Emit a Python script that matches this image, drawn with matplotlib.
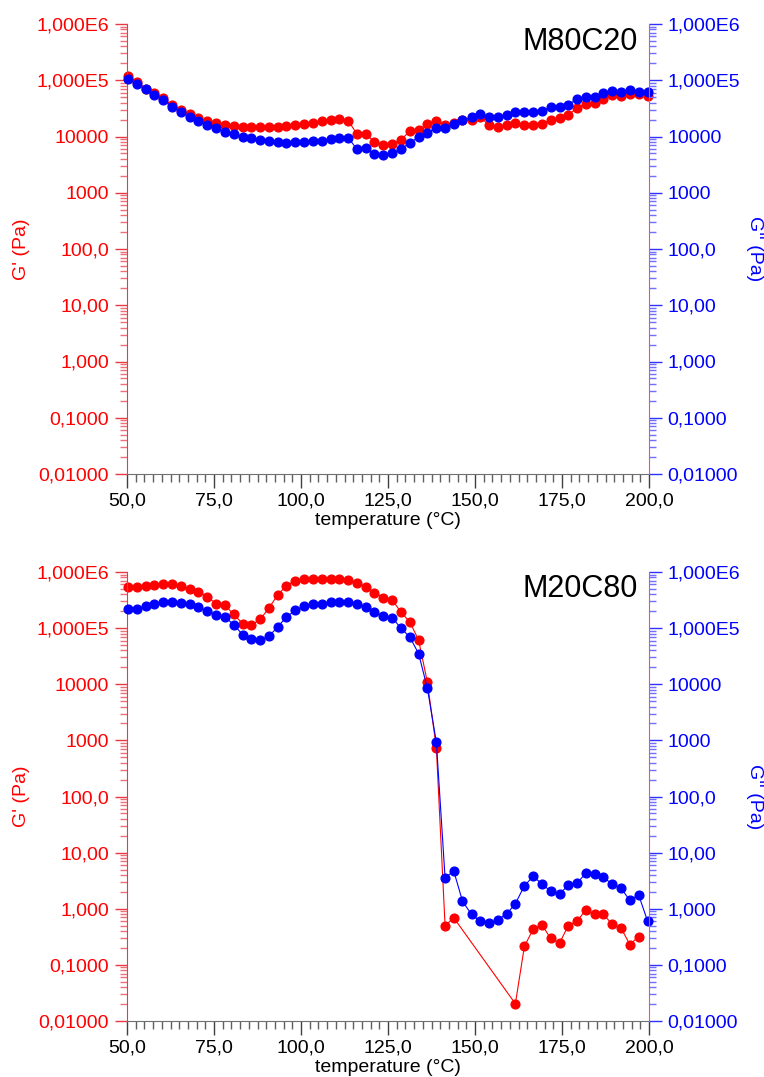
import matplotlib
matplotlib.use('Agg')
import matplotlib.pyplot as plt
from matplotlib.ticker import FixedLocator, LogLocator, NullFormatter
import numpy as np

plt.rcParams['font.family'] = ['Liberation Sans', 'DejaVu Sans']

# temperature (°C), same sweep for both samples
temperature = [50.3, 52.8, 55.4, 57.9, 60.4, 63.0, 65.5, 68.0, 70.5, 73.1,
               75.6, 78.1, 80.7, 83.2, 85.7, 88.3, 90.8, 93.3, 95.8, 98.4,
               100.9, 103.4, 106.0, 108.5, 111.0, 113.6, 116.1, 118.6, 121.1, 123.7,
               126.2, 128.7, 131.3, 133.8, 136.3, 138.9, 141.4, 143.9, 146.4, 149.0,
               151.5, 154.0, 156.6, 159.1, 161.6, 164.2, 166.7, 169.2, 171.7, 174.3,
               176.8, 179.3, 181.9, 184.4, 186.9, 189.5, 192.0, 194.5, 197.0, 199.6]

# M80C20
m80_storage = [1.19e5, 9.4e4, 7.1e4, 5.9e4, 4.8e4, 3.6e4, 2.96e4, 2.5e4, 2.16e4, 1.9e4,
               1.76e4, 1.58e4, 1.54e4, 1.48e4, 1.46e4, 1.45e4, 1.45e4, 1.46e4, 1.54e4, 1.58e4,
               1.67e4, 1.76e4, 1.89e4, 1.96e4, 2.02e4, 1.9e4, 1.1e4, 1.1e4, 8.1e3, 7.1e3,
               7.4e3, 8.7e3, 1.25e4, 1.3e4, 1.67e4, 1.9e4, 1.62e4, 1.76e4, 1.93e4, 1.98e4,
               2.25e4, 1.58e4, 1.49e4, 1.58e4, 1.72e4, 1.58e4, 1.58e4, 1.67e4, 1.96e4, 2.16e4,
               2.38e4, 3.25e4, 3.8e4, 3.9e4, 4.6e4, 5.5e4, 5.3e4, 5.6e4, 5.6e4, 5.25e4]
m80_loss = [1.07e5, 8.5e4, 6.9e4, 5.5e4, 4.5e4, 3.4e4, 2.7e4, 2.25e4, 1.86e4, 1.58e4,
            1.41e4, 1.22e4, 1.09e4, 1.0e4, 9.4e3, 8.8e3, 8.4e3, 8.1e3, 7.8e3, 8.1e3,
            8.1e3, 8.3e3, 8.4e3, 9.0e3, 9.4e3, 9.5e3, 5.9e3, 6.3e3, 4.8e3, 4.7e3,
            5.0e3, 5.9e3, 7.8e3, 9.7e3, 1.17e4, 1.43e4, 1.43e4, 1.65e4, 1.96e4, 2.2e4,
            2.48e4, 2.2e4, 2.2e4, 2.41e4, 2.73e4, 2.73e4, 2.75e4, 2.88e4, 3.3e4, 3.4e4,
            3.7e4, 4.6e4, 5.0e4, 5.0e4, 5.9e4, 6.4e4, 6.2e4, 6.7e4, 6.3e4, 6.2e4]

# M20C80 (None = no point recorded)
m20_storage = [5.4e5, 5.4e5, 5.6e5, 5.96e5, 6.2e5, 6.0e5, 5.7e5, 5.05e5, 4.47e5, 3.6e5,
               2.73e5, 2.55e5, 1.76e5, 1.2e5, 1.12e5, 1.44e5, 2.28e5, 3.9e5, 5.7e5, 7.0e5,
               7.5e5, 7.5e5, 7.6e5, 7.5e5, 7.5e5, 7.2e5, 6.4e5, 5.5e5, 4.3e5, 3.5e5,
               3.2e5, 1.94e5, 1.28e5, 6.1e4, 1.1e4, 730, 0.50, 0.69, None, None,
               None, None, None, None, 0.0203, 0.215, 0.43, 0.52, 0.30, 0.244,
               0.50, 0.60, 0.96, 0.79, 0.79, 0.525, 0.45, 0.23, 0.32, None]
m20_loss = [2.19e5, 2.2e5, 2.5e5, 2.73e5, 2.88e5, 2.88e5, 2.8e5, 2.65e5, 2.38e5, 2.0e5,
            1.74e5, 1.58e5, 1.15e5, 7.65e4, 6.4e4, 6.07e4, 7.2e4, 1.05e5, 1.58e5, 2.08e5,
            2.45e5, 2.7e5, 2.73e5, 2.92e5, 2.95e5, 2.88e5, 2.7e5, 2.38e5, 1.94e5, 1.62e5,
            1.54e5, 1.0e5, 6.9e4, 3.5e4, 8.6e3, 923, 3.57, 4.69, 1.37, 0.79,
            0.60, 0.55, 0.64, 0.81, 1.23, 2.57, 3.77, 2.79, 2.06, 1.85,
            2.6, 2.86, 4.32, 4.09, 3.66, 2.71, 2.3, 1.41, 1.78, 0.60]

y_ticks = [1e-2, 1e-1, 1e0, 1e1, 1e2, 1e3, 1e4, 1e5, 1e6]
y_tick_labels = ['0,01000', '0,1000', '1,000', '10,00', '100,0', '1000', '10000', '1,000E5', '1,000E6']
x_ticks = [50, 75, 100, 125, 150, 175, 200]
x_tick_labels = ['50,0', '75,0', '100,0', '125,0', '150,0', '175,0', '200,0']

RED = '#ff0000'
BLUE = '#0000ff'
FS = 14


def clean(xs, ys):
    pts = [(x, y) for x, y in zip(xs, ys) if y is not None]
    return [p[0] for p in pts], [p[1] for p in pts]


def draw_panel(rect, storage, loss, name, title_y):
    ax = fig.add_axes(rect)
    ax2 = ax.twinx()

    x1, y1 = clean(temperature, storage)
    x2, y2 = clean(temperature, loss)
    ax.plot(x1, y1, color=RED, lw=0.8, marker='o', ms=6.3, mec=RED, clip_on=False)
    ax2.plot(x2, y2, color=BLUE, lw=0.8, marker='o', ms=6.3, mec=BLUE, clip_on=False)

    for a in (ax, ax2):
        a.set_yscale('log')
        a.set_ylim(1e-2, 1e6)
        a.set_xlim(50, 200)
        a.yaxis.set_major_locator(FixedLocator(y_ticks))
        a.yaxis.set_minor_locator(LogLocator(base=10, subs=np.arange(2, 10), numticks=20))
        a.yaxis.set_minor_formatter(NullFormatter())
        a.spines['top'].set_visible(False)
        a.patch.set_visible(False)

    ax.set_yticklabels(y_tick_labels)
    ax2.set_yticklabels(y_tick_labels)

    ax.spines['left'].set_color('#e83a45')
    ax.spines['right'].set_visible(False)
    ax2.spines['left'].set_visible(False)
    ax2.spines['bottom'].set_visible(False)
    ax2.spines['right'].set_color('#dd5a70')
    ax.spines['bottom'].set_color('#707070')

    ax.tick_params(axis='y', which='major', colors='#e83a45', labelcolor=RED,
                   length=9, width=1, labelsize=FS, pad=4)
    ax.tick_params(axis='y', which='minor', colors='#f07078', length=5, width=1)
    ax2.tick_params(axis='y', which='major', colors='#3030ff', labelcolor=BLUE,
                    length=9, width=1, labelsize=FS, pad=4)
    ax2.tick_params(axis='y', which='minor', colors='#7070ff', length=5, width=1)

    ax.set_xticks(x_ticks)
    ax.set_xticklabels(x_tick_labels)
    ax.xaxis.set_minor_locator(FixedLocator(np.arange(50, 200.1, 2.5)))
    ax.tick_params(axis='x', which='major', colors='#404040', labelcolor='black',
                   length=10, width=1, labelsize=FS, pad=3)
    ax.tick_params(axis='x', which='minor', colors='#606060', length=6, width=1)
    ax2.tick_params(axis='x', which='both', bottom=False, labelbottom=False)

    ax.set_xlabel('temperature (°C)', fontsize=FS, labelpad=2)
    ax.set_ylabel("G' (Pa)", color=RED, fontsize=FS, va='center')
    ax.yaxis.set_label_coords(-105 / 522, 0.5)
    ax2.set_ylabel("G'' (Pa)", color=BLUE, fontsize=FS, rotation=270, va='center')
    ax2.yaxis.set_label_coords(1 + 105 / 522, 0.5)

    ax.text(0.979, title_y, name, transform=ax.transAxes, ha='right', va='center',
            fontsize=22, color='black')
    return ax


W, H = 764, 1077
fig = plt.figure(figsize=(W / 100, H / 100), dpi=100)

left = 127 / W
width = 522 / W
draw_panel([left, 1 - 474 / H, width, 450 / H], m80_storage, m80_loss, 'M80C20', 1 - 18 / 450)
draw_panel([left, 1 - 1021 / H, width, 449 / H], m20_storage, m20_loss, 'M20C80', 1 - 17 / 449)

fig.savefig('out.png', dpi=100)
